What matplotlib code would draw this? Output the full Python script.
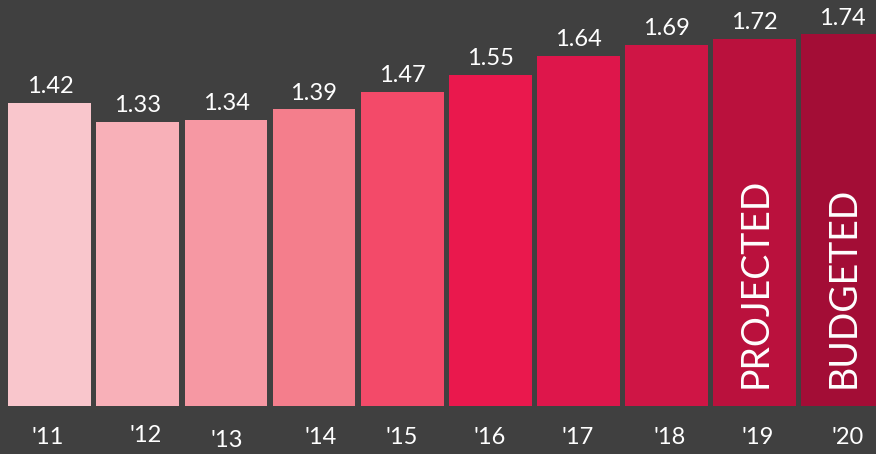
import matplotlib.pyplot as plt

years = ["'11", "'12", "'13", "'14", "'15", "'16", "'17", "'18", "'19", "'20"]
values = [1.42, 1.33, 1.34, 1.39, 1.47, 1.55, 1.64, 1.69, 1.72, 1.74]
notes = {8: "PROJECTED", 9: "BUDGETED"}
colors = ["#F9C6CC", "#F8B0B8", "#F698A3", "#F47E8C", "#F34A69", "#EA184D",
          "#DE164B", "#CF1545", "#BA113D", "#A30D36"]

# small nudges for the year labels
lab_dx = [-0.03, 0.09, 0.01, 0.08, 0.0, 0.0, 0.0, 0.04, 0.04, 0.06]
lab_dy = [0.0, 0.01, -0.01, 0.0, 0.0, 0.0, 0.0, 0.0, 0.0, 0.0]

bg = "#404040"
plt.rcParams['font.family'] = ['Lato', 'DejaVu Sans']

fig = plt.figure(figsize=(8.76, 4.54), dpi=100, facecolor=bg)
ax = fig.add_axes([0, 0, 1, 1], facecolor=bg)

x = range(len(values))
ax.bar(x, values, width=0.943, color=colors)

for i, v in enumerate(values):
    ax.annotate(f"{v:.2f}", (i, v), xytext=(0, 4), textcoords='offset points',
                ha='center', va='bottom', color='white', fontsize=17)
    ax.text(i + lab_dx[i], -0.151 + lab_dy[i], years[i], ha='center', va='center',
            color='white', fontsize=17)

for i, t in notes.items():
    ax.text(i + 0.02, 0.085, t, rotation=90, ha='center', va='bottom',
            color='white', fontsize=27)

ax.set_xlim(-0.568, 9.386)
ax.set_ylim(-0.226, 1.901)
ax.axis('off')

fig.savefig('out.png', dpi=100, facecolor=bg)
